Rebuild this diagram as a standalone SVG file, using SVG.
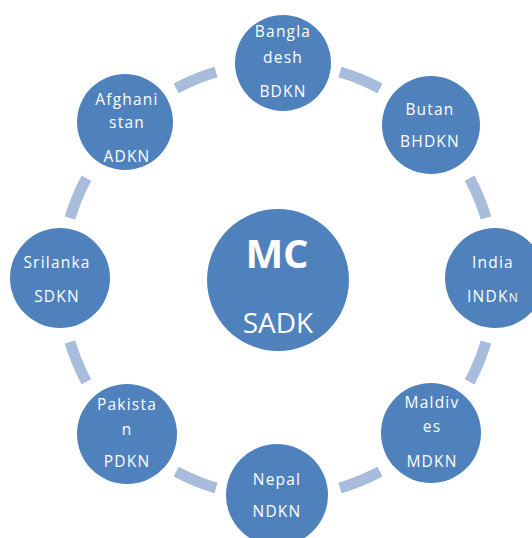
<svg xmlns="http://www.w3.org/2000/svg" width="532" height="538" viewBox="0 0 532 538">
<style>
.node{fill:#4f81bd}
.t{fill:#ffffff;font-family:"Open Sans","Liberation Sans",sans-serif;font-size:15.5px;text-anchor:middle;letter-spacing:1.2px}
.big{fill:#ffffff;font-family:"Open Sans","Liberation Sans",sans-serif;text-anchor:middle}
.conn{fill:none;stroke:#a8bcdc;stroke-width:11}
</style>
<rect width="532" height="538" fill="#ffffff"/>
<g id="connectors">
<path class="conn" d="M340 72 A217 217 0 0 1 379.9 88.4"/>
<path class="conn" d="M469.6 178.1 A217 217 0 0 1 486 218"/>
<path class="conn" d="M486 342 A217 217 0 0 1 469.6 381.9"/>
<path class="conn" d="M379.9 471.6 A217 217 0 0 1 340 488"/>
<path class="conn" d="M216 488 A217 217 0 0 1 176.1 471.6"/>
<path class="conn" d="M86.4 381.9 A217 217 0 0 1 70 342"/>
<path class="conn" d="M70 218 A217 217 0 0 1 86.4 178.1"/>
<path class="conn" d="M176.1 88.4 A217 217 0 0 1 216 72"/>
</g>
<g id="center">
<circle class="node" cx="278" cy="280" r="71"/>
<text class="big" x="277" y="268" font-size="40" font-weight="bold">MC</text>
<text class="big" x="278" y="333" font-size="28">SADK</text>
</g>
<g id="bangladesh">
<circle class="node" cx="283" cy="63" r="48"/>
<text class="t" x="283" y="37">Bangla</text>
<text class="t" x="283" y="63">desh</text>
<text class="t" x="283" y="97">BDKN</text>
</g>
<g id="butan">
<circle class="node" cx="431" cy="125" r="49"/>
<text class="t" x="430" y="115">Butan</text>
<text class="t" x="430" y="147">BHDKN</text>
</g>
<g id="india">
<circle class="node" cx="495" cy="278" r="50"/>
<text class="t" x="493" y="268">India</text>
<text class="t" x="493" y="302">INDK<tspan font-size="12">N</tspan></text>
</g>
<g id="maldives">
<circle class="node" cx="431" cy="433" r="50"/>
<text class="t" x="432" y="408">Maldiv</text>
<text class="t" x="432" y="432">es</text>
<text class="t" x="432" y="467">MDKN</text>
</g>
<g id="nepal">
<circle class="node" cx="277" cy="495" r="51"/>
<text class="t" x="277" y="485">Nepal</text>
<text class="t" x="277" y="517">NDKN</text>
</g>
<g id="pakistan">
<circle class="node" cx="127" cy="434" r="50"/>
<text class="t" x="127" y="410">Pakista</text>
<text class="t" x="127" y="435">n</text>
<text class="t" x="127" y="467">PDKN</text>
</g>
<g id="srilanka">
<circle class="node" cx="60" cy="278" r="50"/>
<text class="t" x="57" y="268">Srilanka</text>
<text class="t" x="57" y="302">SDKN</text>
</g>
<g id="afghanistan">
<circle class="node" cx="125" cy="122" r="48"/>
<text class="t" x="127" y="105">Afghani</text>
<text class="t" x="127" y="128">stan</text>
<text class="t" x="127" y="162">ADKN</text>
</g>
</svg>
